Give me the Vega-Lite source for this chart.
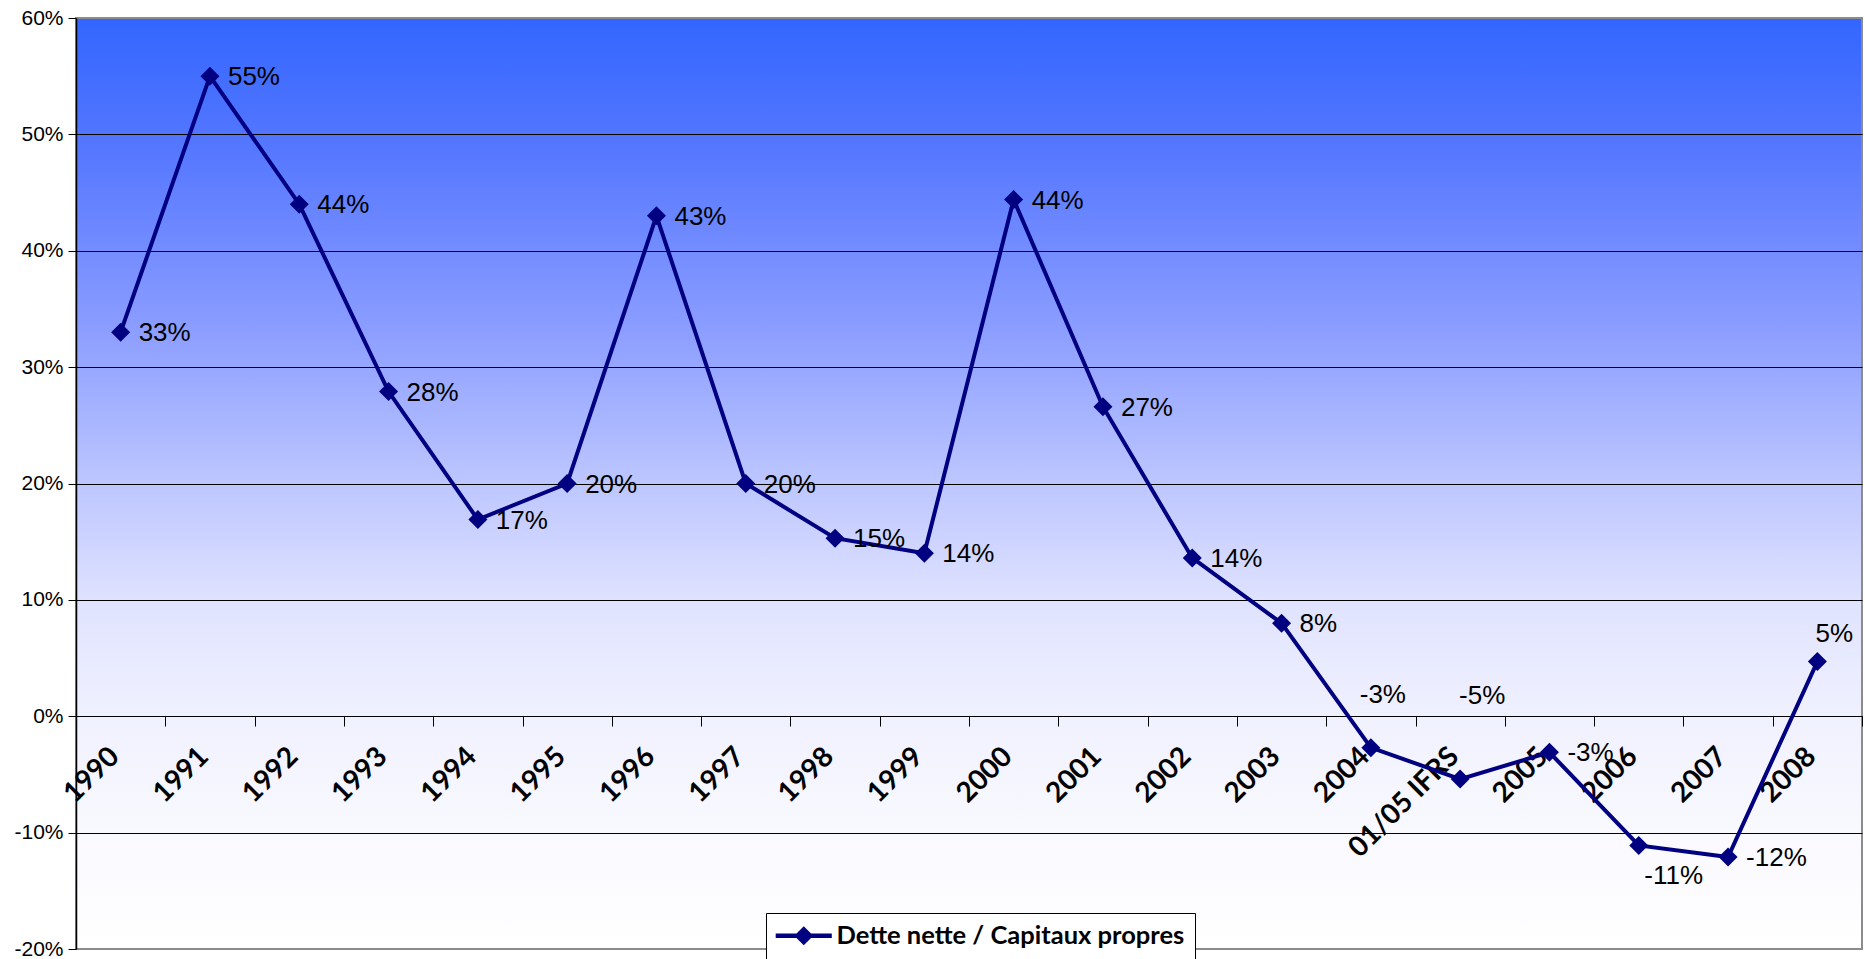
{
  "$schema": "https://vega.github.io/schema/vega-lite/v6.json",
  "width": 1786,
  "height": 931,
  "autosize": {"type": "none"},
  "padding": {"left": 76, "top": 18, "right": 3, "bottom": 10},
  "background": "white",
  "config": {
    "locale": {"number": {"decimal": ".", "thousands": ",", "grouping": [3], "currency": ["", ""], "minus": "-"}},
    "view": {
      "fill": {"gradient": "linear", "x1": 0, "y1": 0, "x2": 0, "y2": 1,
        "stops": [
          {"offset": 0, "color": "#3366FF"},
          {"offset": 0.14, "color": "#5577FF"},
          {"offset": 0.33, "color": "#8A9CFF"},
          {"offset": 0.49, "color": "#BAC4FF"},
          {"offset": 0.58, "color": "#D3D8FF"},
          {"offset": 0.63, "color": "#E0E3FF"},
          {"offset": 0.75, "color": "#F0F1FE"},
          {"offset": 0.88, "color": "#F9F9FF"},
          {"offset": 1, "color": "#FFFFFF"}
        ]},
      "stroke": "#8C8C8C",
      "strokeWidth": 2
    },
    "text": {"font": "Liberation Sans", "fontSize": 26, "color": "black"}
  },
  "data": {
    "values": [
      {"annee": "1990", "ratio": 0.33},
      {"annee": "1991", "ratio": 0.55},
      {"annee": "1992", "ratio": 0.44},
      {"annee": "1993", "ratio": 0.279},
      {"annee": "1994", "ratio": 0.169},
      {"annee": "1995", "ratio": 0.2},
      {"annee": "1996", "ratio": 0.43},
      {"annee": "1997", "ratio": 0.2},
      {"annee": "1998", "ratio": 0.153},
      {"annee": "1999", "ratio": 0.14},
      {"annee": "2000", "ratio": 0.444},
      {"annee": "2001", "ratio": 0.266},
      {"annee": "2002", "ratio": 0.136},
      {"annee": "2003", "ratio": 0.08},
      {"annee": "2004", "ratio": -0.027},
      {"annee": "01/05 IFRS", "ratio": -0.054},
      {"annee": "2005", "ratio": -0.031},
      {"annee": "2006", "ratio": -0.111},
      {"annee": "2007", "ratio": -0.121},
      {"annee": "2008", "ratio": 0.047}
    ]
  },
  "encoding": {
    "x": {
      "field": "annee", "type": "nominal", "sort": null, "bandPosition": 0.5,
      "scale": {"type": "band", "paddingInner": 0, "paddingOuter": 0},
      "axis": {
        "title": null, "orient": "bottom", "offset": -233,
        "labelAngle": -45, "labelAlign": "right", "labelBaseline": "middle",
        "labelFont": "Lato", "labelFontWeight": "bold", "labelFontSize": 28, "labelColor": "black",
        "labelPadding": 26, "labelOffset": -6, "labelOverlap": false, "labelBound": false, "labelLimit": 0,
        "tickBand": "extent", "tickSize": 10, "tickColor": "black", "tickWidth": 1,
        "domainColor": "black", "domainWidth": 1, "grid": false
      }
    },
    "y": {
      "field": "ratio", "type": "quantitative",
      "scale": {"domain": [-0.2, 0.6], "nice": false, "zero": false},
      "axis": {
        "title": null, "format": ".0%", "values": [-0.2, -0.1, 0, 0.1, 0.2, 0.3, 0.4, 0.5, 0.6],
        "labelFont": "Liberation Sans", "labelFontSize": 21, "labelColor": "black", "labelPadding": 5,
        "tickSize": 8, "tickColor": "black", "domainColor": "black", "domainWidth": 1.5,
        "grid": true, "gridWidth": 1,
        "gridColor": {"condition": {"test": "datum.value >= 0.59 || datum.value <= -0.19", "value": "#8C8C8C"}, "value": "black"}
      }
    }
  },
  "layer": [
    {
      "mark": {"type": "line", "strokeWidth": 4},
      "encoding": {
        "color": {
          "datum": "Dette nette / Capitaux propres", "type": "nominal",
          "scale": {"range": ["#000080"]},
          "legend": {
            "title": null, "orient": "none", "legendX": 690, "legendY": 895, "direction": "horizontal",
            "symbolType": "M-3.3,0L-0.75,0M-0.75,0L0,-0.75L0.75,0L0,0.75ZM0.75,0L3.3,0",
            "symbolSize": 289, "symbolStrokeWidth": 4.5, "symbolFillColor": "#000080", "symbolStrokeColor": "#000080",
            "symbolOffset": 15, "labelOffset": 20, "labelLimit": 1000,
            "labelFont": "Lato", "labelFontWeight": "bold", "labelFontSize": 25.5, "labelColor": "black",
            "padding": 10, "strokeColor": "black", "fillColor": "white", "cornerRadius": 0
          }
        }
      }
    },
    {
      "mark": {"type": "point", "shape": "diamond", "filled": true, "size": 361, "opacity": 1, "color": "#000080"}
    },
    {
      "transform": [{"filter": "indexof(['2004','01/05 IFRS','2006','2008'], datum.annee) < 0"}],
      "mark": {"type": "text", "align": "left", "baseline": "middle", "dx": 18, "dy": 1},
      "encoding": {"text": {"field": "ratio", "format": ".0%"}}
    },
    {
      "transform": [{"filter": "datum.annee == '2004'"}],
      "mark": {"type": "text", "align": "center", "baseline": "middle", "dx": 12, "dy": -53},
      "encoding": {"text": {"field": "ratio", "format": ".0%"}}
    },
    {
      "transform": [{"filter": "datum.annee == '01/05 IFRS'"}],
      "mark": {"type": "text", "align": "center", "baseline": "middle", "dx": 22, "dy": -83},
      "encoding": {"text": {"field": "ratio", "format": ".0%"}}
    },
    {
      "transform": [{"filter": "datum.annee == '2006'"}],
      "mark": {"type": "text", "align": "center", "baseline": "middle", "dx": 35, "dy": 31},
      "encoding": {"text": {"field": "ratio", "format": ".0%"}}
    },
    {
      "transform": [{"filter": "datum.annee == '2008'"}],
      "mark": {"type": "text", "align": "center", "baseline": "middle", "dx": 17, "dy": -28},
      "encoding": {"text": {"field": "ratio", "format": ".0%"}}
    }
  ]
}
